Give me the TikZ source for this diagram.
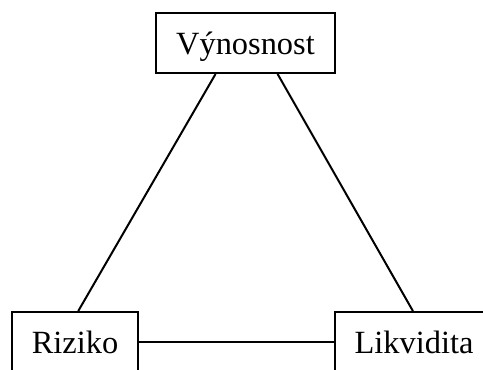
\documentclass[tikz,border=0pt]{standalone}
\usepackage{fontspec}
\setmainfont{Liberation Serif}
\begin{document}
\begin{tikzpicture}[x=0.75pt,y=-0.75pt,
  box/.style={draw, line width=1.5pt, inner sep=0pt, minimum height=45pt,
    text height=17pt, text depth=0pt, font=\fontsize{24.3}{28}\selectfont},
  link/.style={line width=1.5pt}]
\useasboundingbox (0,0) rectangle (483,369);
\clip (0,0) rectangle (483,369);
\node[box, minimum width=134.25pt] (vyn) at (245.5,43) {Výnosnost};
\node[box, minimum width=94.5pt] (riz) at (75,342) {Riziko};
\node[box, minimum width=118.5pt] (lik) at (414,342) {Likvidita};
\draw[link] (vyn.226.5) -- (riz.84.3);
\draw[link] (vyn.316.4) -- (lik.92);
\draw[link] (riz.east) -- (lik.west);
\end{tikzpicture}
\end{document}
